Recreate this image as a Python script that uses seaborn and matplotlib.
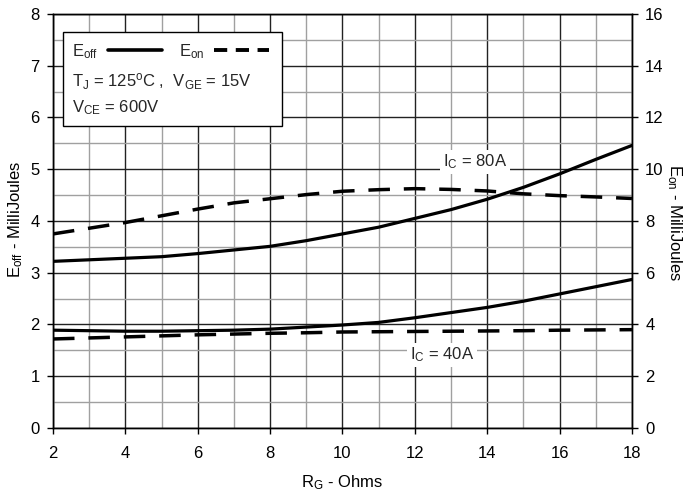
import numpy as np
import pandas as pd
import matplotlib
matplotlib.use('Agg')
import matplotlib.pyplot as plt
from matplotlib.patches import Rectangle
from matplotlib.lines import Line2D
from matplotlib.ticker import MultipleLocator
import seaborn as sns

# --------------------------
# Data
# --------------------------
rg = [2, 3, 4, 5, 6, 7, 8, 9, 10, 11, 12, 13, 14, 15, 16, 17, 18]
eoff_80a = [3.22, 3.25, 3.28, 3.31, 3.37, 3.44, 3.51, 3.62, 3.75, 3.88, 4.05,
            4.22, 4.42, 4.65, 4.91, 5.19, 5.46]
eon_80a = [7.50, 7.72, 7.94, 8.20, 8.46, 8.70, 8.86, 9.02, 9.15, 9.21, 9.25,
           9.22, 9.16, 9.05, 8.98, 8.93, 8.87]
eoff_40a = [1.89, 1.88, 1.87, 1.87, 1.88, 1.89, 1.91, 1.95, 1.99, 2.04, 2.13,
            2.23, 2.33, 2.45, 2.59, 2.73, 2.87]
eon_40a = [3.44, 3.48, 3.52, 3.56, 3.60, 3.63, 3.66, 3.68, 3.71, 3.72, 3.73,
           3.74, 3.75, 3.76, 3.78, 3.79, 3.80]

df = pd.DataFrame({'rg': rg, 'eoff_80a': eoff_80a, 'eon_80a': eon_80a,
                   'eoff_40a': eoff_40a, 'eon_40a': eon_40a})

sns.set_theme(style='white')
plt.rcParams['font.family'] = ['Liberation Sans', 'DejaVu Sans']
plt.rcParams['mathtext.default'] = 'regular'
FS = 12

fig = plt.figure(figsize=(6.89, 4.98), dpi=100)
ax = fig.add_axes([0.0769, 0.1406, 0.8403, 0.8313])
ax2 = ax.twinx()

DASH = (0, (6.2, 4))
LW = 2.3

# --------------------------
# Curves
# --------------------------
sns.lineplot(data=df, x='rg', y='eoff_80a', ax=ax, color='black', lw=LW, zorder=5)
sns.lineplot(data=df, x='rg', y='eoff_40a', ax=ax, color='black', lw=LW, zorder=5)
sns.lineplot(data=df, x='rg', y='eon_80a', ax=ax2, color='black', lw=2.5,
             linestyle=DASH, zorder=5)
sns.lineplot(data=df, x='rg', y='eon_40a', ax=ax2, color='black', lw=2.5,
             linestyle=DASH, zorder=5)

# --------------------------
# Axes, grid
# --------------------------
ax.set_xlim(2, 18)
ax.set_ylim(0, 8)
ax2.set_ylim(0, 16)
ax.xaxis.set_major_locator(MultipleLocator(2))
ax.xaxis.set_minor_locator(MultipleLocator(1))
ax.yaxis.set_major_locator(MultipleLocator(1))
ax.yaxis.set_minor_locator(MultipleLocator(0.5))
ax2.yaxis.set_major_locator(MultipleLocator(2))
ax2.yaxis.set_minor_locator(MultipleLocator(1))

ax.grid(which='major', color='#222222', lw=1.0)
ax.grid(which='minor', color='#a0a0a0', lw=1.0)
ax.set_axisbelow(True)
ax2.grid(False)

for a in (ax, ax2):
    for s in a.spines.values():
        s.set_color('black')
        s.set_linewidth(1.0)
    a.tick_params(which='major', direction='out', length=4, width=1,
                  color='black', labelsize=FS, labelcolor='black', pad=5.5)
    a.tick_params(which='minor', length=0)

ax.tick_params(axis='y', left=True, right=False)
ax.tick_params(axis='x', bottom=True, pad=9)
ax2.tick_params(axis='y', right=True)

ax.set_xlabel('R$_G$ - Ohms', fontsize=FS, color='black')
ax.xaxis.set_label_coords(0.5, -0.133)
ax.xaxis.label.set_va('center')

ax.set_ylabel('E$_{off}$ - MilliJoules', fontsize=FS, color='black')
ax.yaxis.set_label_coords(-0.064, 0.505)
ax.yaxis.label.set_va('center')

ax2.set_ylabel('E$_{on}$ - MilliJoules', fontsize=FS, color='black', rotation=270)
ax2.yaxis.set_label_coords(1.074, 0.495)
ax2.yaxis.label.set_va('center')

# --------------------------
# Annotations
# --------------------------
box = dict(facecolor='white', edgecolor='none', pad=2)
ax.text(13.66, 5.14, 'I$_C$ = 80A', fontsize=FS, ha='center', va='center',
        bbox=box, zorder=3)
ax.text(12.76, 1.41, 'I$_C$ = 40A', fontsize=FS, ha='center', va='center',
        bbox=box, zorder=3)

# legend box
ax.add_patch(Rectangle((0.0173, 0.7295), 0.378, 0.2275, transform=ax.transAxes,
                       facecolor='white', edgecolor='black', lw=1.0, zorder=6))
handles = [Line2D([], [], color='black', lw=2.6),
           Line2D([], [], color='black', lw=2.8, linestyle=(0, (3.4, 2.2)))]
leg = ax.legend(handles, ['E$_{off}$', 'E$_{on}$'], ncol=2, markerfirst=False,
                loc='center left', bbox_to_anchor=(0.0328, 0.909), frameon=False,
                fontsize=FS, handlelength=3.25, handletextpad=0.6,
                columnspacing=1.0, borderpad=0, borderaxespad=0)
leg.set_zorder(7)
ax.text(0.0328, 0.8365, 'T$_J$ = 125$^o$C ,  V$_{GE}$ = 15V', transform=ax.transAxes,
        fontsize=FS, ha='left', va='center', zorder=7)
ax.text(0.0328, 0.773, 'V$_{CE}$ = 600V', transform=ax.transAxes,
        fontsize=FS, ha='left', va='center', zorder=7)

fig.savefig('out.png', dpi=100)
